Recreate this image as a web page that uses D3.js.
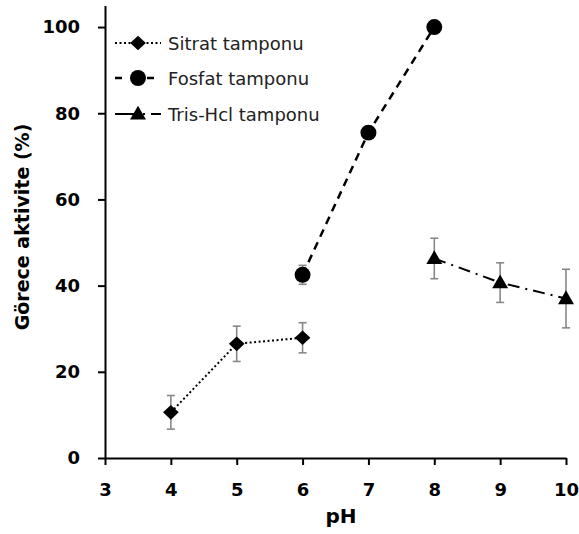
<!DOCTYPE html>
<html>
<head>
<meta charset="utf-8">
<script src="https://cdn.jsdelivr.net/npm/d3@7"></script>
<style>
body { margin: 0; background: #fff; }
text { font-family: "DejaVu Sans", Verdana, sans-serif; }
</style>
</head>
<body>
<div id="chart"></div>
<script>
// data
var phSitrat = [4, 5, 6],
	sitrat = [10.6, 26.5, 27.9],
	sitratErr = [3.9, 4.1, 3.5];

var phFosfat = [6, 7, 8],
	fosfat = [42.5, 75.5, 100],
	fosfatErr = [2.2, 0, 0];

var phTris = [8, 9, 10],
	tris = [46.3, 40.7, 37.0],
	trisErr = [4.7, 4.6, 6.8];

var xTicks = [3, 4, 5, 6, 7, 8, 9, 10],
	yTicks = [0, 20, 40, 60, 80, 100];

var legendNames = ["Sitrat tamponu", "Fosfat tamponu", "Tris-Hcl tamponu"];

var chart_width = 579,
	chart_height = 534;

var svg = d3.select("#chart")
	.append("svg")
		.attr("width", chart_width)
		.attr("height", chart_height);

var x = d3.scaleLinear().domain([3, 10]).range([105, 566]);
var y = d3.scaleLinear().domain([0, 105]).range([458, 5.5]);

// axes
var xAxis = svg.append("g")
	.attr("transform", "translate(0," + y(0) + ")")
	.call(d3.axisBottom(x).tickValues(xTicks).tickFormat(d3.format("d"))
		.tickSize(7).tickSizeOuter(0).tickPadding(18));

var yAxis = svg.append("g")
	.attr("transform", "translate(" + x(3) + ",0)")
	.call(d3.axisLeft(y).tickValues(yTicks).tickFormat(d3.format("d"))
		.tickSize(7).tickSizeOuter(0).tickPadding(18));

[xAxis, yAxis].forEach(function(g) {
	g.select(".domain").attr("stroke", "#000").attr("stroke-width", 2);
	g.selectAll(".tick line").attr("stroke", "#000").attr("stroke-width", 2);
	g.selectAll(".tick text")
		.attr("fill", "#000")
		.attr("font-size", 18)
		.attr("font-weight", "bold")
		.attr("font-family", "DejaVu Sans, sans-serif");
});

// axis titles
svg.append("text")
	.text("pH")
	.attr("x", 341)
	.attr("y", 523)
	.attr("text-anchor", "middle")
	.attr("font-size", 20)
	.attr("font-weight", "bold");

svg.append("text")
	.text("Görece aktivite (%)")
	.attr("transform", "translate(29,227) rotate(-90)")
	.attr("text-anchor", "middle")
	.attr("font-size", 19)
	.attr("font-weight", "bold");

var series = [
	{ ph: phSitrat, v: sitrat, e: sitratErr, dash: "2,2.5", width: 2, shape: d3.symbolDiamond, size: 62, legendDash: "2,2.5" },
	{ ph: phFosfat, v: fosfat, e: fosfatErr, dash: "8,6", width: 2.5, shape: d3.symbolCircle, size: 200, legendDash: "7,9" },
	{ ph: phTris, v: tris, e: trisErr, dash: "12,6,2,6", width: 2, shape: d3.symbolTriangle, size: 110, legendDash: "22,6,2,6" }
];

function markTransform(s, cx, cy) {
	var ty = s.shape === d3.symbolTriangle ? cy + 1 : cy;
	var sc = s.shape === d3.symbolDiamond ? " scale(1.85,1)" : "";
	return "translate(" + cx + "," + ty + ")" + sc;
}

var line = d3.line()
	.x(function(d) { return x(d[0]); })
	.y(function(d) { return y(d[1]); });

series.forEach(function(s) {
	var pts = s.ph.map(function(p, i) { return [p, s.v[i], s.e[i]]; });

	// error bars
	var eb = svg.append("g").attr("stroke", "#888").attr("stroke-width", 1.6);
	pts.forEach(function(d) {
		if (!d[2]) return;
		eb.append("line")
			.attr("x1", x(d[0])).attr("x2", x(d[0]))
			.attr("y1", y(d[1] - d[2])).attr("y2", y(d[1] + d[2]));
		[d[1] - d[2], d[1] + d[2]].forEach(function(v) {
			eb.append("line")
				.attr("x1", x(d[0]) - 4).attr("x2", x(d[0]) + 4)
				.attr("y1", y(v)).attr("y2", y(v));
		});
	});

	svg.append("path")
		.attr("d", line(pts))
		.attr("fill", "none")
		.attr("stroke", "#000")
		.attr("stroke-width", s.width)
		.attr("stroke-dasharray", s.dash);

	svg.selectAll(null)
		.data(pts)
		.enter()
		.append("path")
		.attr("d", d3.symbol().type(s.shape).size(s.size))
		.attr("transform", function(d) { return markTransform(s, x(d[0]), y(d[1])); })
		.attr("fill", "#000");
});

// legend
var legendY = [43, 78, 114];
series.forEach(function(s, i) {
	var g = svg.append("g").attr("transform", "translate(0," + legendY[i] + ")");
	g.append("line")
		.attr("x1", 115).attr("x2", 161)
		.attr("stroke", "#000")
		.attr("stroke-width", s.width)
		.attr("stroke-dasharray", s.legendDash);
	g.append("path")
		.attr("d", d3.symbol().type(s.shape).size(s.size))
		.attr("transform", markTransform(s, 138, 0))
		.attr("fill", "#000");
	g.append("text")
		.text(legendNames[i])
		.attr("x", 168)
		.attr("y", 6.5)
		.attr("font-size", 18)
		.attr("fill", "#222");
});
</script>
</body>
</html>
